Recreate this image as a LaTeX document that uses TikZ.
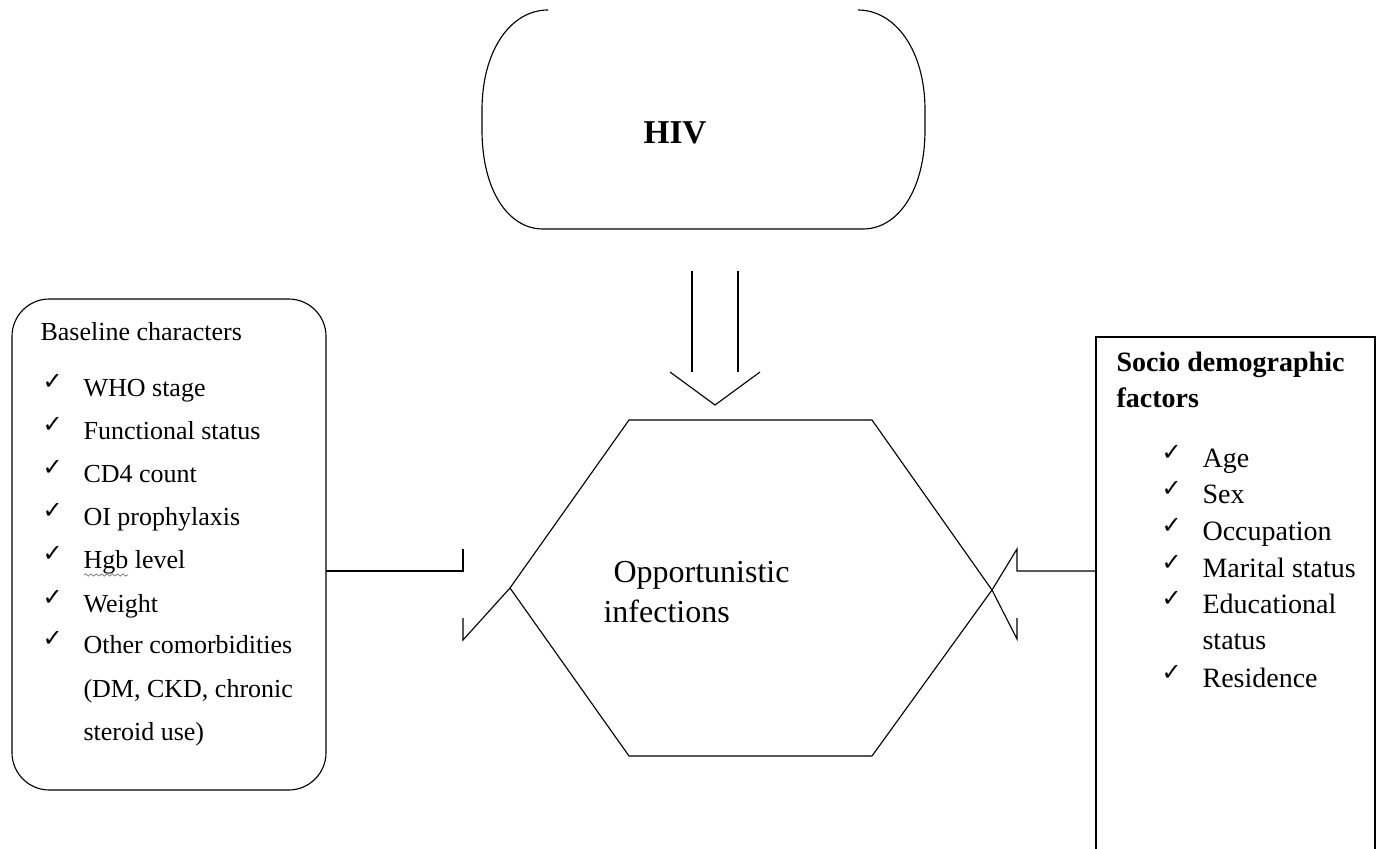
\documentclass[tikz,border=0pt]{standalone}
\usepackage{fontspec}
\setmainfont{Liberation Serif}
\newfontfamily\symfont{DejaVu Sans}
\usetikzlibrary{decorations.pathmorphing}

\newcommand{\ckmark}{{\symfont\fontsize{18}{18}\selectfont ✓}}

\tikzset{every picture/.style={line width=0.85pt}}
\tikzset{
  lefttxt/.style={anchor=base west, inner sep=0pt, font=\fontsize{19.5}{23}\selectfont},
  righttxt/.style={anchor=base west, inner sep=0pt, font=\fontsize{21}{25}\selectfont},
  tickmark/.style={anchor=base west, inner sep=0pt},
}

\begin{document}
\begin{tikzpicture}[x=0.75pt,y=0.75pt,yscale=-1,xscale=1]
    \useasboundingbox (0,0) rectangle (1382,849);
    %Shape: HIV (open on top)
    \draw    (548,10) .. controls (511,10) and (482,50) .. (482,110) -- (482,130) .. controls (482,190) and (508,229) .. (543,229) -- (863,229) .. controls (898,229) and (925,190) .. (925,130) -- (925,110) .. controls (925,50) and (895,10) .. (858,10) ;
    \node[anchor=base west, inner sep=0pt, font=\fontsize{25}{30}\selectfont\bfseries] (hiv) at (643,143) {HIV};
    %Down Arrow
    \draw    (692,271) -- (692,372) ;
    \draw    (738,271) -- (738,372) ;
    \draw    (670,372) -- (715,405) -- (760,372) ;
    %Shape: Hexagon
    \coordinate (hexL) at (510,588);
    \coordinate (hexR) at (992,590);
    \draw    (hexL) -- (629,420) -- (872,420) -- (hexR) -- (872,756) -- (629,756) -- cycle ;
    \node[anchor=base west, inner sep=0pt, font=\fontsize{24}{29}\selectfont] (oi1) at (613,582) {Opportunistic};
    \node[anchor=base west, inner sep=0pt, font=\fontsize{24}{29}\selectfont] (oi2) at (603,622) {infections};
    %Rounded Rect: Baseline characters
    \draw[rounded corners=28pt]    (12,299) rectangle (326,790) ;
    \coordinate (lbE) at (326,571);
    \node[lefttxt] (base) at (40,340) {Baseline characters};
    \node[tickmark] (c1) at (42,389) {\ckmark};
    \node[lefttxt] (who) at (83,396) {WHO stage};
    \node[tickmark] (c2) at (42,432) {\ckmark};
    \node[lefttxt] (func) at (83,439) {Functional status};
    \node[tickmark] (c3) at (42,475) {\ckmark};
    \node[lefttxt] (cd4) at (83,482) {CD4 count};
    \node[tickmark] (c4) at (42,518) {\ckmark};
    \node[lefttxt] (proph) at (83,525) {OI prophylaxis};
    \node[tickmark] (c5) at (42,561) {\ckmark};
    \node[lefttxt] (hgb) at (83,568) {Hgb level};
    \draw[gray, line width=0.6pt, decorate, decoration={snake, amplitude=0.8pt, segment length=4pt}] (84,575) -- (128,575) ;
    \node[tickmark] (c6) at (42,605) {\ckmark};
    \node[lefttxt] (wt) at (83,612) {Weight};
    \node[tickmark] (c7) at (42,646) {\ckmark};
    \node[lefttxt] (como) at (83,653) {Other comorbidities};
    \node[lefttxt] (como2) at (83,697) {(DM, CKD, chronic};
    \node[lefttxt] (como3) at (83,740) {steroid use)};
    %Rect: Socio demographic factors (runs off the page)
    \draw    (1096,849) -- (1096,337) -- (1375,337) -- (1375,849) ;
    \coordinate (rbW) at (1096,571);
    \node[righttxt, font=\fontsize{21}{25}\selectfont\bfseries] (socio) at (1116,371) {Socio demographic};
    \node[righttxt, font=\fontsize{21}{25}\selectfont\bfseries] (fact) at (1116,407) {factors};
    \node[tickmark] (r1) at (1161,460) {\ckmark};
    \node[righttxt] (age) at (1202,467) {Age};
    \node[tickmark] (r2) at (1161,496) {\ckmark};
    \node[righttxt] (sex) at (1202,503) {Sex};
    \node[tickmark] (r3) at (1161,533) {\ckmark};
    \node[righttxt] (occ) at (1202,540) {Occupation};
    \node[tickmark] (r4) at (1161,570) {\ckmark};
    \node[righttxt] (mar) at (1202,577) {Marital status};
    \node[tickmark] (r5) at (1161,606) {\ckmark};
    \node[righttxt] (edu) at (1202,613) {Educational};
    \node[righttxt] (edu2) at (1202,649) {status};
    \node[tickmark] (r6) at (1161,680) {\ckmark};
    \node[righttxt] (res) at (1202,687) {Residence};
    %Left Arrow
    \draw    (lbE) -- (463,571) -- (463,549) ;
    \draw    (463,618) -- (463,640) -- (hexL) ;
    %Right Arrow
    \draw    (rbW) -- (1017,571) -- (1017,549) -- (hexR) -- (1017,639) -- (1017,618) ;
  \end{tikzpicture}
\end{document}
